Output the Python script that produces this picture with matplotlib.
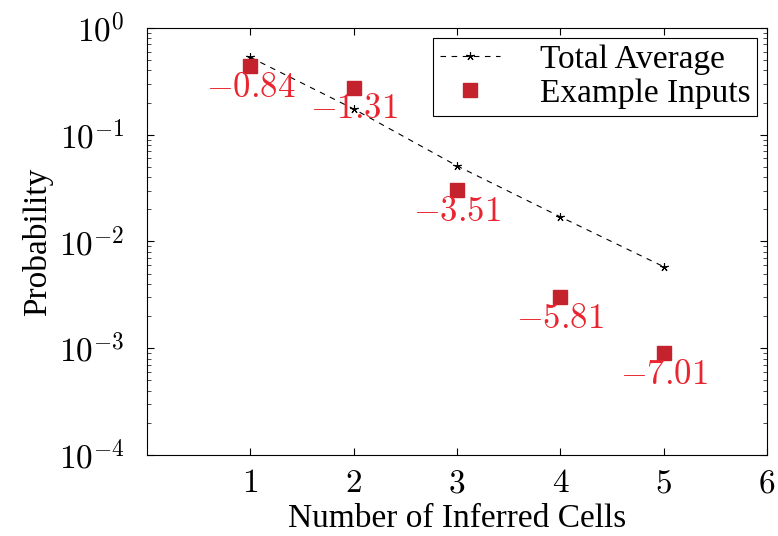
import math
import matplotlib
matplotlib.use('Agg')
import matplotlib.pyplot as plt
from matplotlib.ticker import FixedLocator, FuncFormatter, LogLocator, NullFormatter

# data
cells = [1, 2, 3, 4, 5]
total_avg = [0.53, 0.174, 0.051, 0.017, 0.0058]
example_inputs = [0.44, 0.274, 0.0303, 0.0030, 0.00090]
example_labels = ['\u22120.84', '\u22121.31', '\u22123.51', '\u22125.81', '\u22127.01']

plt.rcParams['font.family'] = ['Liberation Serif', 'DejaVu Serif']
plt.rcParams['mathtext.fontset'] = 'cm'

fig = plt.figure(figsize=(7.78, 5.36), dpi=100)
ax = fig.add_axes([0.189, 0.151, 0.797, 0.797])

ax.plot(cells, total_avg, color='black', linestyle=(0, (5, 5)), linewidth=0.8,
        marker=(5, 2, 0), markersize=6, markeredgewidth=0.8, label='Total Average')
ax.plot(cells, example_inputs, linestyle='none', marker='s', markersize=10,
        color='#c4222c', markeredgecolor='#c4222c', label='Example Inputs')

for x, y, t in zip(cells, example_inputs, example_labels):
    ax.annotate(r'$%s$' % t, (x, y), xytext=(0, -4),
                textcoords='offset points', ha='center', va='top',
                fontsize=25, color='#ea2530')

ax.set_yscale('log')
ax.set_xlim(0, 6)
ax.set_ylim(1e-4, 1)
ax.xaxis.set_major_locator(FixedLocator([1, 2, 3, 4, 5, 6]))
ax.xaxis.set_major_formatter(FuncFormatter(lambda v, p: r'$%d$' % v))
ax.yaxis.set_major_locator(FixedLocator([1e-4, 1e-3, 1e-2, 1e-1, 1]))
ax.yaxis.set_major_formatter(FuncFormatter(lambda v, p: r'$10^{%d}$' % round(math.log10(v))))
ax.yaxis.set_minor_locator(LogLocator(base=10, subs=range(2, 10)))
ax.yaxis.set_minor_formatter(NullFormatter())

ax.tick_params(which='both', direction='in', top=True, right=True, labelsize=24)
ax.tick_params(which='major', length=5, width=0.8)
ax.tick_params(axis='y', which='major', pad=16)
ax.tick_params(axis='x', which='major', pad=10)
ax.tick_params(which='minor', length=3, width=0.5)
for s in ax.spines.values():
    s.set_linewidth(0.8)

ax.set_xlabel('Number of Inferred Cells', fontsize=24, labelpad=3)
ax.set_ylabel('Probability', fontsize=24, labelpad=4)

leg = ax.legend(loc='upper right', fontsize=24, frameon=True, fancybox=False,
                edgecolor='black', framealpha=1, handlelength=1.8,
                handletextpad=1.2, borderpad=0.2, labelspacing=0.1,
                borderaxespad=0.3)
leg.get_frame().set_linewidth(0.8)

fig.savefig('out.png', dpi=100)
